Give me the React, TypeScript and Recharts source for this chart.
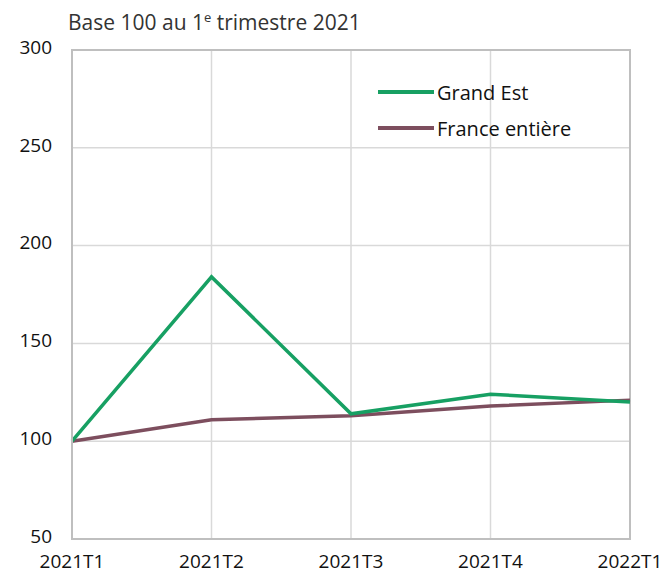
import React from 'react';
import {
  LineChart,
  Line,
  XAxis,
  YAxis,
  CartesianGrid,
  ReferenceArea,
} from 'recharts';

const quarters = ['2021T1', '2021T2', '2021T3', '2021T4', '2022T1'];
const grandEst = [100, 184, 114, 124, 120];
const franceEntiere = [100, 111, 113, 118, 121];
const yTicks = [50, 100, 150, 200, 250, 300];

const data = quarters.map((q, i) => ({
  quarter: q,
  grandEst: grandEst[i],
  france: franceEntiere[i],
}));

const FONT = '"Open Sans", sans-serif';
const GREEN = '#17a063';
const MAUVE = '#7d4e5e';

const legendItems = [
  { label: 'Grand Est', color: GREEN },
  { label: 'France entière', color: MAUVE },
];

export default function App() {
  return (
    <div style={{ position: 'absolute', left: 0, top: 0, width: 667, height: 575, background: '#fff' }}>
      <LineChart
        width={667}
        height={575}
        data={data}
        margin={{ top: 50, right: 37, left: 0, bottom: 0 }}
      >
        <CartesianGrid stroke="#d9d9d9" strokeWidth={1.5} />
        <XAxis
          dataKey="quarter"
          tickLine={false}
          axisLine={{ stroke: '#bfbfbf', strokeWidth: 2 }}
          tick={{ fill: '#111', fontSize: 19, fontFamily: FONT }}
          tickMargin={10}
          height={36}
          interval={0}
        />
        <YAxis
          domain={[50, 300]}
          ticks={yTicks}
          tickLine={false}
          axisLine={{ stroke: '#bfbfbf', strokeWidth: 2 }}
          tick={{ fill: '#111', fontSize: 19, fontFamily: FONT, dy: -3 }}
          tickMargin={14}
          width={72}
        />
        <ReferenceArea
          x1="2021T1"
          x2="2022T1"
          y1={50}
          y2={300}
          stroke="#bfbfbf"
          strokeWidth={2}
          fill="none"
          fillOpacity={0}
        />
        <Line
          dataKey="france"
          stroke={MAUVE}
          strokeWidth={3.5}
          dot={false}
          isAnimationActive={false}
        />
        <Line
          dataKey="grandEst"
          stroke={GREEN}
          strokeWidth={3.5}
          dot={false}
          isAnimationActive={false}
        />
      </LineChart>
      <div
        style={{
          position: 'absolute',
          left: 68,
          top: 8,
          fontFamily: FONT,
          fontSize: 21,
          color: '#333',
          whiteSpace: 'nowrap',
          lineHeight: '28px',
        }}
      >
        Base 100 au 1<sup style={{ fontSize: 13, lineHeight: 0 }}>e</sup> trimestre 2021
      </div>
      <div style={{ position: 'absolute', left: 378, top: 74, fontFamily: FONT, fontSize: 20, color: '#111' }}>
        {legendItems.map((it) => (
          <div key={it.label} style={{ display: 'flex', alignItems: 'center', height: 36 }}>
            <span style={{ display: 'inline-block', width: 56, height: 4, background: it.color, marginRight: 3 }} />
            <span>{it.label}</span>
          </div>
        ))}
      </div>
    </div>
  );
}
